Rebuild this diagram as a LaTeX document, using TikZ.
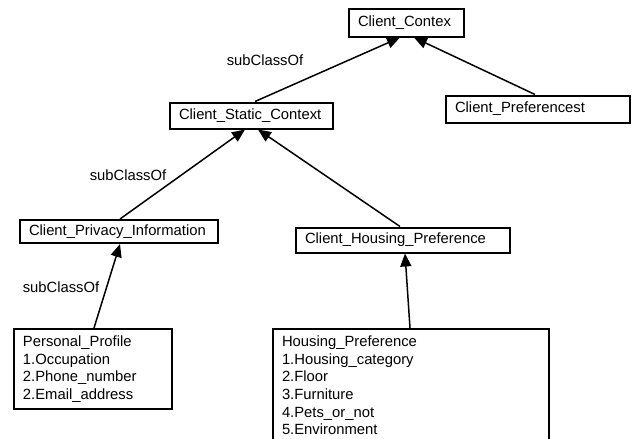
\documentclass[tikz,border=0pt]{standalone}
\usepackage{fontspec}
\setmainfont{Liberation Sans}
\usetikzlibrary{arrows.meta}
\begin{document}
\begin{tikzpicture}[x=1pt,y=-1pt,
  cls/.style={draw, line width=2pt, font=\fontsize{14.8}{17.4}\selectfont, inner xsep=9pt, inner ysep=0pt, anchor=center, align=left},
  lst/.style={draw, line width=2pt, font=\fontsize{14.8}{17.6}\selectfont, inner xsep=9pt, inner ysep=5pt, anchor=north west, align=left},
  sub/.style={-{Triangle[length=13pt,width=11pt]}, line width=1.5pt},
  lbl/.style={font=\fontsize{14.8}{17.4}\selectfont, inner sep=0pt}]
\useasboundingbox (0,0) rectangle (632,439);
\clip (0,0) rectangle (632,439);
\node[cls, minimum width=115pt, minimum height=28pt, text width=97pt] (contex) at (406.5,22.5) {Client\_Contex};
\node[cls, minimum width=184pt, minimum height=27pt, text width=166pt] (pref) at (538,109) {Client\_Preferencest};
\node[cls, minimum width=163pt, minimum height=26pt, text width=145pt] (static) at (251.5,115.5) {Client\_Static\_Context};
\node[cls, minimum width=198pt, minimum height=23pt, text width=180pt] (privacy) at (119,231.5) {Client\_Privacy\_Information};
\node[cls, minimum width=214pt, minimum height=25pt, text width=196pt] (housing) at (403,240) {Client\_Housing\_Preference};
\node[lst, minimum width=158pt, minimum height=80pt, text width=140pt, inner ysep=4pt] (personal) at (13,328) {\parbox[t][70pt][c]{140pt}{Personal\_Profile\\1.Occupation\\2.Phone\_number\\2.Email\_address}};
\node[lst, minimum width=276pt, text width=258pt, inner ysep=7pt] (hpref) at (272,328) {\parbox[t][130pt][t]{258pt}{Housing\_Preference\\1.Housing\_category\\2.Floor\\3.Furniture\\4.Pets\_or\_not\\5.Environment}};
\draw[sub] ([xshift=3.5pt]static.north) -- ([xshift=-6.5pt]contex.south);
\draw[sub] ([xshift=-3pt]pref.north) -- ([xshift=7.5pt]contex.south);
\draw[sub] ([xshift=1pt]privacy.north) -- ([xshift=-6.5pt]static.south);
\draw[sub] ([xshift=-3pt]housing.north) -- ([xshift=6.5pt]static.south);
\draw[sub] ([xshift=1pt]personal.north) -- ([xshift=1pt]privacy.south);
\draw[sub] (hpref.north -| 410,0) -- ([xshift=2pt]housing.south);
\node[lbl] (l1) at (265,60) {subClassOf};
\node[lbl] (l2) at (128,175) {subClassOf};
\node[lbl] (l3) at (61,287) {subClassOf};
\end{tikzpicture}
\end{document}
